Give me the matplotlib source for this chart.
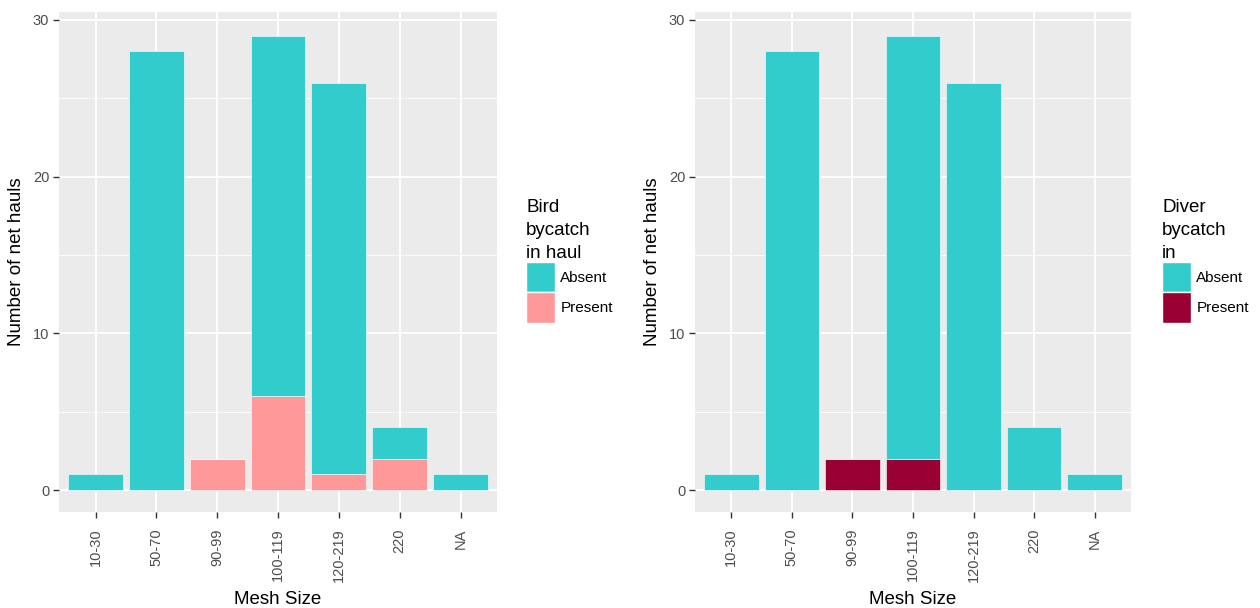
import matplotlib.pyplot as plt
from matplotlib.patches import Patch
import numpy as np

plt.rcParams['font.family'] = ['Liberation Sans', 'DejaVu Sans']

mesh = ["10-30", "50-70", "90-99", "100-119", "120-219", "220", "NA"]
bird_absent = [1, 28, 0, 23, 25, 2, 1]
bird_present = [0, 0, 2, 6, 1, 2, 0]
diver_absent = [1, 28, 0, 27, 26, 4, 1]
diver_present = [0, 0, 2, 2, 0, 0, 0]

teal = "#33CCCC"
pink = "#FF9999"
darkred = "#990033"

fig = plt.figure(figsize=(12.6, 6.08), dpi=100)
W, H = 1260, 608


def panel(x0, x1, absent, present, pcol, title, legx):
    ax = fig.add_axes([x0 / W, 1 - 512 / H, (x1 - x0) / W, 500 / H])
    ax.set_facecolor("#EBEBEB")
    x = np.arange(len(mesh))
    ax.bar(x, present, 0.9, color=pcol, edgecolor="#ffffff", linewidth=0.4, zorder=3)
    ax.bar(x, absent, 0.9, bottom=present, color=teal, edgecolor="#ffffff",
           linewidth=0.4, zorder=3)
    ax.set_xlim(-0.6, 6.6)
    ax.set_ylim(-1.4, 30.5)
    ax.set_yticks([0, 10, 20, 30])
    ax.set_yticks([5, 15, 25], minor=True)
    ax.set_xticks(x)
    ax.set_xticklabels(mesh, rotation=90)
    ax.grid(which="major", color="white", linewidth=1.3, zorder=0)
    ax.grid(which="minor", axis="y", color="white", linewidth=0.6, zorder=0)
    ax.set_axisbelow(True)
    for s in ax.spines.values():
        s.set_visible(False)
    ax.tick_params(which="major", length=4, width=1, color="#333333",
                   labelcolor="#4D4D4D", labelsize=10.5, pad=3)
    ax.tick_params(which="minor", length=0)
    ax.tick_params(axis="x", pad=8)
    ax.set_xlabel("Mesh Size", fontsize=13.5, labelpad=6)
    ax.set_ylabel("Number of net hauls", fontsize=13.5, labelpad=6)
    handles = [Patch(facecolor=teal, edgecolor="white"),
               Patch(facecolor=pcol, edgecolor="white")]
    leg = fig.legend(handles, ["Absent", "Present"], title=title,
                     loc="upper left", bbox_to_anchor=(legx / W, 1 - 199 / H),
                     frameon=False, fontsize=11, title_fontsize=13.5,
                     alignment="left", borderpad=0, borderaxespad=0,
                     handlelength=1.9, handleheight=2.7, handletextpad=0.35,
                     labelspacing=0.0)
    leg.get_title().set_linespacing(1.45)
    return ax


panel(59, 497, bird_absent, bird_present, pink, "Bird\nbycatch\nin haul", 526)
panel(695, 1131, diver_absent, diver_present, darkred, "Diver\nbycatch\nin", 1162)

fig.savefig("out.png", dpi=100)
